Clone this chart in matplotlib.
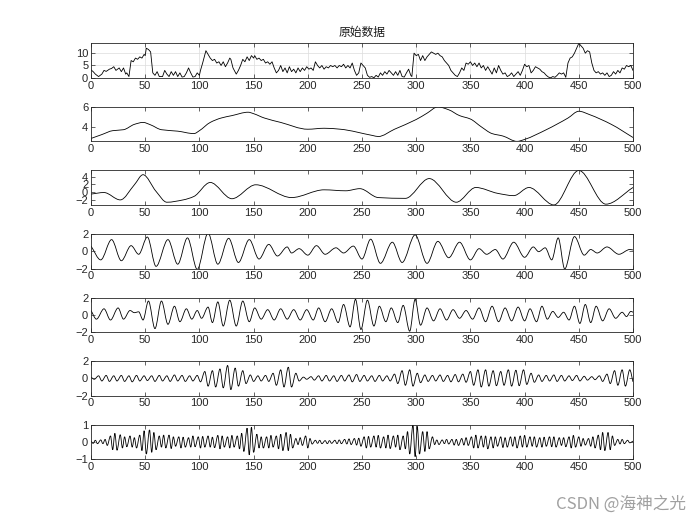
import numpy as np
import matplotlib
matplotlib.use("Agg")
import matplotlib.pyplot as plt
from matplotlib.path import Path
from matplotlib.patches import PathPatch

plt.rcParams['font.family'] = ['Liberation Sans', 'Noto Sans CJK SC', 'DejaVu Sans']

# 原始数据 (panel 1)
raw_x = [0, 2, 4, 7, 10, 12, 14, 17, 19, 21, 23, 26, 28, 30, 32, 33, 35,
         37, 39, 41, 43, 45, 47, 49, 50, 51, 53, 55, 57,
         59, 61, 63, 66, 68, 70, 72, 74, 76, 78, 80, 82, 84, 86, 88, 90, 92, 94, 96, 98, 100,
         101, 103, 106, 108, 110, 112, 114, 116, 118, 120, 122, 124, 126, 128, 129, 131, 134,
         136, 138, 140, 142, 144, 146, 148, 150, 151, 153, 155, 157, 159, 161, 163, 165, 167,
         169, 171, 173, 175, 177, 179, 181, 183, 185, 187, 189, 191, 193, 195, 197, 199,
         201, 203, 205, 207, 209, 211, 213, 215, 217, 219, 221, 223, 225, 227, 229, 231, 233,
         235, 237, 239, 241, 243, 245, 247, 249, 251, 253, 255, 257, 259, 261, 263, 265, 267,
         269, 271, 273, 275, 277, 279, 281, 283, 285, 287, 289, 291, 293, 295, 296,
         298, 300, 302, 304, 306, 308, 310, 312, 314, 316, 318, 320, 322, 324, 326, 328, 330,
         332, 334, 336, 338, 340, 342, 344, 346, 348, 350, 352, 354, 356, 358, 360, 362, 364,
         366, 368, 370, 372, 374, 376, 378, 380, 382, 384, 386, 388, 390, 392, 394, 396, 398,
         400, 402, 404, 406, 408, 410, 412, 414, 416, 418, 420, 422, 424, 426, 428, 430, 432,
         434, 436, 438, 440, 442, 444, 446, 448, 450, 452, 454, 456, 458, 460, 462, 464, 466,
         468, 470, 472, 474, 476, 478, 480, 482, 484, 486, 488, 490, 492, 494, 496, 498, 500]
raw_y = [3.2, 2.5, 1.5, 0.5, 1.5, 3.0, 2.6, 3.5, 3.8, 4.5, 3.0, 4.0, 2.5, 4.0, 1.5, 2.0, 0.5,
         7.0, 6.5, 8.0, 7.5, 8.5, 8.0, 9.5, 9.0, 12.0, 11.5, 10.5, 2.0,
         1.0, 2.5, 0.5, 0.5, 3.0, 1.5, 0.5, 2.5, 1.0, 2.5, 0.5, 2.0, 0.3, 0.5, 2.0, 4.0, 2.0, 0.3, 0.5, 2.0, 1.0,
         3.0, 6.0, 11.0, 9.5, 8.0, 7.0, 7.5, 6.0, 6.5, 5.0, 6.5, 4.5, 6.0, 8.0, 7.5, 4.0, 1.5,
         3.0, 5.0, 7.5, 6.5, 8.5, 7.0, 9.0, 8.0, 9.0, 7.5, 8.0, 7.0, 7.5, 6.0, 6.5, 5.5, 6.5,
         4.0, 2.0, 3.0, 5.0, 2.5, 4.0, 2.0, 4.5, 2.5, 3.5, 2.0, 4.0, 2.5, 4.0, 3.0, 4.5,
         3.5, 4.0, 3.0, 6.5, 5.0, 4.0, 5.0, 3.5, 4.5, 4.0, 5.0, 4.5, 5.0, 4.0, 5.0, 4.5, 5.5,
         4.0, 5.0, 4.0, 6.0, 3.0, 1.0, 2.0, 6.0, 5.0, 4.0, 1.0, 0.2, 0.5, 0.0, 1.0, 0.3, 2.0,
         1.0, 2.5, 1.5, 3.0, 2.0, 1.0, 2.5, 1.0, 3.0, 0.5, 0.3, 2.0, 3.5, 1.0, 0.5,
         10.0, 9.0, 9.5, 7.0, 9.0, 7.0, 8.5, 9.5, 10.5, 10.0, 9.5, 10.0, 9.0, 8.5, 7.0, 6.0, 5.0,
         3.0, 2.0, 1.0, 0.5, 2.0, 4.0, 3.0, 6.0, 5.5, 6.5, 5.0, 6.0, 4.5, 6.0, 4.0, 5.0, 3.0,
         4.5, 3.0, 1.5, 4.0, 2.0, 5.0, 3.0, 1.5, 2.0, 0.5, 1.0, 2.0, 0.5, 1.5, 2.5, 1.0, 3.0,
         5.5, 4.5, 5.0, 2.0, 3.0, 4.5, 4.0, 3.5, 2.5, 2.0, 1.0, 0.3, 0.0, 0.5, 0.2, 1.0, 2.0,
         1.5, 2.0, 0.2, 6.0, 8.0, 8.5, 10.0, 12.0, 14.0, 13.0, 12.0, 10.0, 11.0, 10.5, 6.0, 3.0, 2.0,
         2.5, 1.5, 2.0, 1.0, 2.0, 0.5, 1.0, 2.5, 1.5, 3.0, 2.0, 4.0, 3.5, 5.0, 4.5, 5.0, 3.0]

# panel 2
m1_x = [0, 10, 20, 30, 40, 48, 55, 65, 80, 95, 100, 110, 120, 130, 145, 150, 160, 175,
        200, 215, 230, 260, 265, 280, 300, 310, 320, 330, 340, 350, 360, 370, 380, 393,
        400, 420, 440, 450, 460, 480, 500]
m1_y = [2.8, 3.2, 3.6, 3.7, 4.25, 4.45, 4.2, 3.7, 3.55, 3.3, 3.6, 4.45, 4.9, 5.15, 5.5, 5.35,
        4.9, 4.45, 3.75, 3.85, 3.75, 3.1, 3.0, 3.75, 4.75, 5.4, 6.05, 5.75, 5.15, 4.8, 4.0,
        3.3, 3.05, 2.5, 2.7, 3.7, 4.9, 5.6, 5.25, 4.25, 2.9]

# panel 3
m2_x = [0, 12, 27, 40, 48, 60, 70, 85, 95, 110, 130, 152, 185, 215, 235, 248, 265, 290,
        312, 337, 355, 375, 390, 404, 427, 450, 475, 500]
m2_y = [-0.5, -0.1, -2.0, 1.9, 4.5, 0.2, -2.6, -2.0, -1.1, 2.5, -1.7, 1.9, -1.4, 0.6, 0.35,
        0.9, -1.4, -1.6, 3.5, -2.6, 1.2, -0.3, -0.9, 1.2, -3.3, 5.6, -3.1, 1.2]

# panel 4
m3_x = [0, 9, 19, 28, 37, 44, 52, 60, 71, 80, 89, 98, 108, 117, 127, 136, 146, 155, 164,
        172, 181, 185, 192, 200, 208, 216, 226, 233, 242, 250, 258, 267, 278, 287, 299, 310,
        320, 330, 340, 350, 358, 365, 373, 380, 390, 400, 408, 413, 419, 425, 431, 437, 446,
        455, 461, 467, 476, 487, 497, 500]
m3_y = [0.6, -1.0, 1.35, -1.1, 0.65, -0.35, 1.65, -1.75, 1.35, -1.5, 1.55, -2.1, 2.1, -1.5,
        1.5, -1.3, 1.35, -0.9, 0.8, -0.55, 0.5, -0.2, 0.3, -0.45, 0.65, -0.35, 0.4, -0.2, 0.6,
        -0.9, 1.4, -1.4, 1.05, -1.3, 1.9, -1.4, 1.15, -0.75, 1.05, -1.0, 0.3, -0.35, 0.2, -0.9,
        1.05, -0.7, 0.5, -0.05, 0.4, -1.0, 1.55, -2.05, 1.7, -0.45, 0.2, -0.2, 0.5, -0.35, 0.2,
        0.15]

# panel 5
m4_x = [0, 5, 12, 18, 25, 30, 36, 40, 44, 48, 53, 59, 65, 71, 77, 82, 88, 93, 98, 102,
        108, 112, 117, 122, 128, 134, 140, 146, 151, 157, 163, 169, 175, 181, 187, 193, 199,
        205, 210, 216, 222, 228, 233, 239, 244, 249, 255, 261, 266, 272, 277, 283, 288, 294,
        299, 304, 310, 316, 322, 328, 334, 340, 346, 352, 358, 364, 370, 376, 382, 388, 394,
        400, 405, 411, 416, 421, 426, 431, 436, 441, 446, 451, 456, 461, 466, 472, 478, 484,
        490, 494, 498, 500]
m4_y = [0.5, -0.5, 0.7, -0.6, 0.8, -0.5, 0.5, 0.25, 0.35, -0.6, 1.6, -1.6, 1.6, -1.1, 1.0,
        -0.8, 0.7, -0.5, 0.5, -0.4, 0.9, -0.9, 1.5, -1.3, 1.7, -1.3, 1.6, -0.8, 0.8, -0.5, 0.6,
        -0.6, 0.7, -0.5, 0.6, -0.6, 0.6, -0.6, 0.8, -0.8, 0.7, -0.9, 1.2, -1.4, 1.8, -1.7, 1.7,
        -1.3, 1.0, -0.8, 0.8, -0.9, 1.1, -1.9, 1.8, -1.2, 0.8, -0.7, 0.7, -0.6, 0.6, -0.4, 0.5,
        -0.5, 0.8, -0.8, 1.0, -0.8, 0.8, -0.7, 0.9, -0.7, 0.7, -0.8, 1.0, -0.5, 0.4, -0.3, 0.3,
        -0.6, 1.0, -1.0, 1.2, -0.9, 1.0, -0.7, 0.7, -0.4, 0.3, -0.2, 0.4, 0.3]

# panel 6
m5_x = [0, 3, 7, 10, 14, 17, 21, 24, 28, 31, 35, 38, 42, 45, 49, 52, 56, 59, 63, 66, 70, 73,
        77, 80, 84, 87, 91, 94, 98, 101, 105, 108, 112, 115, 119, 122, 126, 129, 133, 136,
        140, 143, 147, 150, 154, 157, 161, 164, 168, 171, 175, 178, 182, 185, 189, 192, 196,
        199, 203, 206, 210, 213, 217, 220, 224, 227, 231, 234, 238, 241, 245, 248, 252, 255,
        259, 262, 266, 269, 273, 276, 280, 283, 287, 290, 294, 297, 301, 304, 308, 311, 315,
        318, 322, 325, 329, 332, 336, 339, 343, 346, 350, 353, 357, 360, 364, 367, 371, 374,
        378, 381, 385, 388, 392, 395, 399, 402, 406, 409, 413, 416, 420, 423, 427, 430, 434,
        437, 441, 444, 448, 451, 455, 458, 462, 465, 469, 472, 476, 479, 483, 486, 490, 493,
        497, 500]
m5_y = [0.15, -0.1, 0.3, -0.3, 0.35, -0.35, 0.3, -0.3, 0.35, -0.35, 0.3, -0.4, 0.35, -0.3,
        0.3, -0.25, 0.3, -0.35, 0.35, -0.3, 0.3, -0.35, 0.4, -0.3, 0.35, -0.35, 0.3, -0.3, 0.35,
        -0.4, 0.8, -0.9, 0.9, -1.0, 1.1, -1.1, 1.5, -1.3, 1.2, -0.9, 0.9, -0.6, 0.4, -0.35, 0.3,
        -0.3, 0.35, -0.35, 0.6, -0.8, 1.0, -1.0, 1.3, -1.0, 0.6, -0.3, 0.15, -0.1, 0.2, -0.2,
        0.3, -0.3, 0.35, -0.3, 0.3, -0.35, 0.35, -0.3, 0.4, -0.4, 0.45, -0.35, 0.35, -0.3, 0.3,
        -0.35, 0.35, -0.3, 0.3, -0.3, 0.5, -0.6, 0.9, -0.8, 1.0, -0.9, 0.6, -0.5, 0.4, -0.35,
        0.35, -0.3, 0.4, -0.35, 0.35, -0.4, 0.45, -0.4, 0.5, -0.45, 0.8, -0.8, 1.0, -1.0, 1.0,
        -0.9, 0.9, -0.85, 0.8, -0.8, 1.0, -0.9, 0.95, -0.85, 1.0, -0.7, 0.6, -0.45, 0.4, -0.35,
        0.35, -0.3, 0.4, -0.35, 0.35, -0.3, 0.3, -0.25, 0.35, -0.3, 0.25, -0.2, 0.2, -0.15, 0.3,
        -0.35, 0.5, -0.6, 0.9, -0.8, 1.0, -0.9, 1.0, -0.4]

# panel 7
m6_x = [0, 2, 4, 6, 9, 11, 13, 15, 18, 20, 22, 24, 27, 29, 31, 33, 36, 38, 40, 42, 45, 47,
        49, 51, 54, 56, 58, 60, 63, 65, 67, 69, 72, 74, 76, 78, 81, 83, 85, 87, 90, 92, 94, 96,
        99, 101, 103, 105, 108, 110, 112, 114, 117, 119, 121, 123, 126, 128, 130, 132, 135,
        137, 139, 141, 144, 146, 148, 150, 153, 155, 157, 159, 162, 164, 166, 168, 171, 173,
        175, 177, 180, 182, 184, 186, 189, 191, 193, 195, 198, 200, 202, 204, 207, 209, 211,
        213, 216, 218, 220, 222, 225, 227, 229, 231, 234, 236, 238, 240, 243, 245, 247, 249,
        252, 254, 256, 258, 261, 263, 265, 267, 270, 272, 274, 276, 279, 281, 283, 285, 288,
        290, 292, 294, 297, 299, 301, 303, 306, 308, 310, 312, 315, 317, 319, 321, 324, 326,
        328, 330, 333, 335, 337, 339, 342, 344, 346, 348, 351, 353, 355, 357, 360, 362, 364,
        366, 369, 371, 373, 375, 378, 380, 382, 384, 387, 389, 391, 393, 396, 398, 400, 402,
        405, 407, 409, 411, 414, 416, 418, 420, 423, 425, 427, 429, 432, 434, 436, 438, 441,
        443, 445, 447, 450, 452, 454, 456, 459, 461, 463, 465, 468, 470, 472, 474, 477, 479,
        481, 483, 486, 488, 490, 492, 495, 497, 500]
m6_y = [0.05, -0.08, 0.1, -0.1, 0.12, -0.1, 0.15, -0.2, 0.35, -0.45, 0.5, -0.48,
        0.42, -0.35, 0.3, -0.28, 0.35, -0.3, 0.25, -0.35, 0.4, -0.5, 0.65, -0.7,
        0.7, -0.6, 0.55, -0.45, 0.35, -0.3, 0.4, -0.35, 0.4, -0.38, 0.3, -0.25,
        0.3, -0.35, 0.28, -0.3, 0.25, -0.3, 0.35, -0.28, 0.3, -0.35, 0.32, -0.3,
        0.35, -0.3, 0.28, -0.33, 0.38, -0.4, 0.35, -0.3, 0.3, -0.35, 0.38, -0.3,
        0.35, -0.4, 0.5, -0.55, 0.8, -0.75, 0.85, -0.6, 0.45, -0.35, 0.3, -0.35,
        0.3, -0.35, 0.38, -0.3, 0.35, -0.4, 0.45, -0.5, 0.55, -0.5, 0.45, -0.35,
        0.2, -0.15, 0.25, -0.2, 0.35, -0.35, 0.2, -0.12, 0.1, -0.08, 0.1, -0.1,
        0.08, -0.1, 0.08, -0.08, 0.1, -0.1, 0.12, -0.1, 0.15, -0.12, 0.18, -0.15,
        0.2, -0.18, 0.22, -0.25, 0.3, -0.35, 0.32, -0.3, 0.35, -0.3, 0.38, -0.35,
        0.3, -0.35, 0.4, -0.38, 0.35, -0.3, 0.4, -0.45, 0.35, -0.4, 0.6, -0.7,
        1.0, -0.85, 0.9, -0.7, 0.6, -0.55, 0.6, -0.4, 0.3, -0.15, 0.12, -0.15,
        0.12, -0.1, 0.15, -0.12, 0.15, -0.18, 0.15, -0.2, 0.2, -0.18, 0.25, -0.2,
        0.3, -0.35, 0.4, -0.35, 0.35, -0.3, 0.35, -0.4, 0.3, -0.35, 0.3, -0.25,
        0.3, -0.32, 0.25, -0.3, 0.3, -0.25, 0.3, -0.35, 0.35, -0.3, 0.38, -0.3,
        0.3, -0.25, 0.3, -0.3, 0.25, -0.3, 0.28, -0.25, 0.3, -0.28, 0.3, -0.3,
        0.25, -0.2, 0.25, -0.28, 0.3, -0.35, 0.38, -0.3, 0.3, -0.25, 0.2, -0.18,
        0.2, -0.25, 0.3, -0.35, 0.4, -0.45, 0.55, -0.5, 0.55, -0.45, 0.35, -0.2,
        0.15, -0.12, 0.15, -0.1, 0.1, -0.05, 0.05]

series = [(raw_x, raw_y), (m1_x, m1_y), (m2_x, m2_y), (m3_x, m3_y),
          (m4_x, m4_y), (m5_x, m5_y), (m6_x, m6_y)]
ylims = [(0, 14), (2.5, 6.05), (-3.3, 5.6), (-2, 2), (-2, 2), (-2, 2), (-1, 1)]
yticks = [[0, 5, 10], [4, 6], [-2, 0, 2, 4], [-2, 0, 2], [-2, 0, 2], [-2, 0, 2], [-1, 0, 1]]
xticks = [0, 50, 100, 150, 200, 250, 300, 350, 400, 450, 500]


def curve_path(xs, ys):
    # smooth line through the read points (flat at peaks/troughs), drawn as bezier segments
    x = np.asarray(xs, float)
    y = np.asarray(ys, float)
    d = np.diff(y) / np.diff(x)
    m = np.zeros_like(y)
    m[0], m[-1] = d[0], d[-1]
    for i in range(1, len(y) - 1):
        if d[i - 1] * d[i] > 0:
            m[i] = 2 / (1 / d[i - 1] + 1 / d[i])
    verts = [(x[0], y[0])]
    codes = [Path.MOVETO]
    for i in range(len(x) - 1):
        h = x[i + 1] - x[i]
        verts += [(x[i] + h / 3, y[i] + m[i] * h / 3),
                  (x[i + 1] - h / 3, y[i + 1] - m[i + 1] * h / 3),
                  (x[i + 1], y[i + 1])]
        codes += [Path.CURVE4] * 3
    return Path(verts, codes)


axc = '#262626'
fig = plt.figure(figsize=(7, 5.25), dpi=100)
W, H = 700, 525
for i, (xs, ys) in enumerate(series):
    top = 43.3 + 63.57 * i
    ax = fig.add_axes([91 / W, 1 - (top + 34.5) / H, 542 / W, 34.5 / H])
    if i == 0:
        ax.plot(xs, ys, color='black', lw=0.6)
    else:
        ax.add_patch(PathPatch(curve_path(xs, ys), fill=False, edgecolor='black', lw=0.6))
    ax.set_xlim(0, 500)
    ax.set_ylim(*ylims[i])
    ax.set_xticks(xticks)
    ax.set_yticks(yticks[i])
    ax.tick_params(direction='in', length=3, width=0.5, top=True, right=True,
                   labelsize=8, colors=axc, pad=2)
    for s in ax.spines.values():
        s.set_linewidth(0.6)
        s.set_color(axc)
    if i == 0:
        ax.grid(True, color='#dcdcdc', lw=0.5)
        ax.set_axisbelow(True)
        ax.set_title('原始数据', fontsize=8.5, color='#1a1a1a', pad=5,
                     family=['Noto Sans CJK SC', 'DejaVu Sans'])

fig.text(0.98, 0.04, 'CSDN @海神之光', ha='right', va='center', fontsize=12,
         color='#a0a0a0', family=['Noto Sans CJK SC', 'DejaVu Sans'])
fig.savefig('out.png', dpi=100, facecolor='white')
